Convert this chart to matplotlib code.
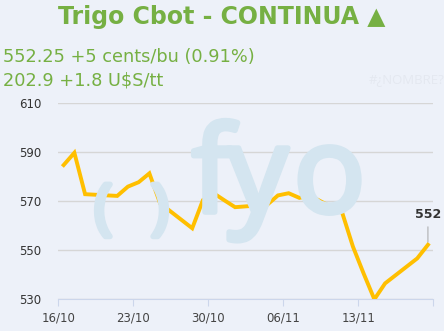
import numpy as np
import pandas as pd
import matplotlib
matplotlib.use('Agg')
import matplotlib.pyplot as plt
import matplotlib.patheffects as pe

# data (cents/bu)
dates = ['2024-10-16', '2024-10-17', '2024-10-18', '2024-10-21', '2024-10-22',
         '2024-10-23', '2024-10-24', '2024-10-25', '2024-10-28', '2024-10-29',
         '2024-10-30', '2024-10-31', '2024-11-01', '2024-11-04', '2024-11-05',
         '2024-11-06', '2024-11-07', '2024-11-08', '2024-11-11', '2024-11-12',
         '2024-11-13', '2024-11-14', '2024-11-15', '2024-11-18', '2024-11-19']
values = [584.8, 589.8, 572.9, 572.2, 576.0,
          577.8, 581.4, 569.2, 559.0, 570.5,
          573.3, 570.4, 567.6, 568.6, 572.4,
          573.3, 571.4, 572.3, 565.3, 551.5,
          540.5, 530.0, 536.5, 546.7, 552.25]
yticks = [530, 550, 570, 590, 610]
xtick_dates = ['2024-10-16', '2024-10-23', '2024-10-30', '2024-11-06', '2024-11-13', '2024-11-20']
xtick_labels = ['16/10', '23/10', '30/10', '06/11', '13/11', '']

title = 'Trigo Cbot - CONTINUA ▲'
line1 = '552.25 +5 cents/bu (0.91%)'
line2 = '202.9 +1.8 U$S/tt'

bg = '#edf1f9'
green = '#76b043'
amber = '#ffbf00'
wm = '#d4e5f0'

x = pd.to_datetime(dates) + pd.Timedelta(hours=12)
xt = pd.to_datetime(xtick_dates)

W, H = 444, 331
fig = plt.figure(figsize=(4.44, 3.31), dpi=100, facecolor=bg)
ax = fig.add_axes([58.3/W, 1-299.3/H, 375/W, 196/H])
ax.set_facecolor(bg)

# watermark "( )fyo" sits behind the grid
thick = [pe.withStroke(linewidth=4, foreground=wm)]
for ch, cx in [('(', 103), (')', 160)]:
    fig.text(cx/W, 1-211/H, ch, fontsize=43, color=wm, ha='center', va='center',
             family='Open Sans', zorder=0, path_effects=thick)
for ch, cx in [('f', 212), ('y', 258), ('o', 329.5)]:
    fig.text(cx/W, 1-212/H, ch, fontsize=86, color=wm, ha='center', va='baseline',
             family='Open Sans', zorder=0, path_effects=thick)
ax.patch.set_alpha(0)

ax.plot(x, values, color=amber, lw=2.8, solid_joinstyle='miter', zorder=3)

ax.set_ylim(530, 610)
ax.set_xlim(xt[0], xt[-1])
ax.set_yticks(yticks)
ax.set_xticks(xt)
ax.set_xticklabels(xtick_labels)
ax.grid(axis='y', color='#d6d6d6', lw=1)
ax.set_axisbelow(True)
for s in ['top', 'right', 'left']:
    ax.spines[s].set_visible(False)
ax.spines['bottom'].set_color('#ccd6eb')
ax.tick_params(axis='y', length=0, labelsize=8.5, labelcolor='#333333', pad=12)
ax.tick_params(axis='x', length=5, color='#ccd6eb', labelsize=8.5, labelcolor='#444444', pad=4)

ax.annotate('552', xy=(x[-1], values[-1]), xytext=(0, 17), textcoords='offset points',
            ha='center', va='bottom', fontsize=9, fontweight='bold', color='#333333',
            arrowprops=dict(arrowstyle='-', color='#999999', lw=0.6, shrinkA=2, shrinkB=2))

fig.text(0.5, 1-17/H, title, ha='center', va='center', fontsize=17, fontweight='bold',
         color=green)
fig.text(3/W, 1-57/H, line1, ha='left', va='center', fontsize=12.8, color=green)
fig.text(3/W, 1-80/H, line2, ha='left', va='center', fontsize=12.8, color=green)
fig.text(369/W, 1-80/H, '#¿NOMBRE?', ha='left', va='center', fontsize=9.5,
         family='Open Sans', color='#e4e8f0')

fig.savefig('out.png', dpi=100, facecolor=bg)
